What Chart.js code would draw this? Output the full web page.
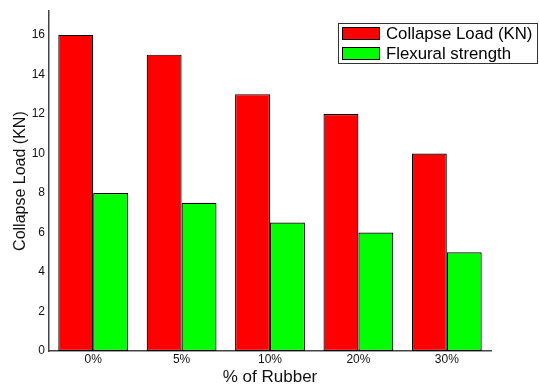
<!DOCTYPE html>
<html>
<head>
<meta charset="utf-8">
<script src="https://cdn.jsdelivr.net/npm/chart.js@4"></script>
<style>
html,body{margin:0;padding:0;background:#fff;}
#wrap{width:539px;height:388px;position:relative;}
</style>
</head>
<body>
<div id="wrap"><canvas id="c" width="539" height="388"></canvas></div>
<script>
const categories = ["0%", "5%", "10%", "20%", "30%"];
const collapseLoad = [16, 15, 13, 12, 10];
const flexuralStrength = [8, 7.5, 6.5, 6, 5];
const seriesNames = ["Collapse Load (KN)", "Flexural strength"];

const FONT = '"Liberation Sans", Arial, sans-serif';

const boxLegend = {
  id: 'boxLegend',
  afterDraw(chart) {
    const ctx = chart.ctx;
    const x0 = 338, y0 = 23, w = 200, h = 41;
    ctx.save();
    ctx.fillStyle = '#fff';
    ctx.fillRect(x0, y0, w, h);
    ctx.strokeStyle = '#333';
    ctx.lineWidth = 1;
    ctx.strokeRect(x0 + 0.5, y0 + 0.5, w - 1, h - 1);
    ctx.font = '16.8px ' + FONT;
    ctx.textBaseline = 'middle';
    chart.data.datasets.forEach((ds, i) => {
      const cy = y0 + 10 + i * 20;
      ctx.fillStyle = ds.backgroundColor;
      ctx.fillRect(342, cy - 6, 38, 13);
      ctx.strokeStyle = '#000';
      ctx.strokeRect(342.5, cy - 5.5, 37, 12);
      ctx.fillStyle = '#000';
      ctx.fillText(ds.label, 386, cy + 1);
    });
    ctx.restore();
  }
};

new Chart(document.getElementById('c'), {
  type: 'bar',
  data: {
    labels: categories,
    datasets: [
      { label: seriesNames[0], data: collapseLoad, backgroundColor: '#ff0000', borderColor: '#000', borderWidth: 1.2, borderSkipped: false },
      { label: seriesNames[1], data: flexuralStrength, backgroundColor: '#00ff00', borderColor: '#000', borderWidth: 1.2, borderSkipped: false }
    ]
  },
  options: {
    responsive: false,
    animation: false,
    layout: { padding: { top: 7, right: 48, left: 0, bottom: 0 } },
    plugins: { legend: { display: false }, tooltip: { enabled: false } },
    datasets: { bar: { barPercentage: 1.0, categoryPercentage: 0.79 } },
    scales: {
      x: {
        grid: { display: false, drawTicks: false },
        border: { display: true, color: '#444', width: 1.5 },
        ticks: { color: '#111', font: { family: FONT, size: 12 }, padding: 1, maxRotation: 0 },
        title: { display: true, text: '% of Rubber', color: '#111', font: { family: FONT, size: 17 }, padding: { top: 3, bottom: 0 } },
        afterFit(s) { s.height = 37; }
      },
      y: {
        min: 0, max: 17.2,
        grid: { display: false, drawTicks: false },
        border: { display: true, color: '#444', width: 1.5 },
        ticks: { stepSize: 2, includeBounds: false, color: '#111', font: { family: FONT, size: 12 }, padding: 4 },
        title: { display: true, text: 'Collapse Load (KN)', color: '#111', font: { family: FONT, size: 16 }, padding: { top: 11, bottom: 0 } },
        afterFit(s) { s.width = 49; }
      }
    }
  },
  plugins: [boxLegend]
});
</script>
</body>
</html>
